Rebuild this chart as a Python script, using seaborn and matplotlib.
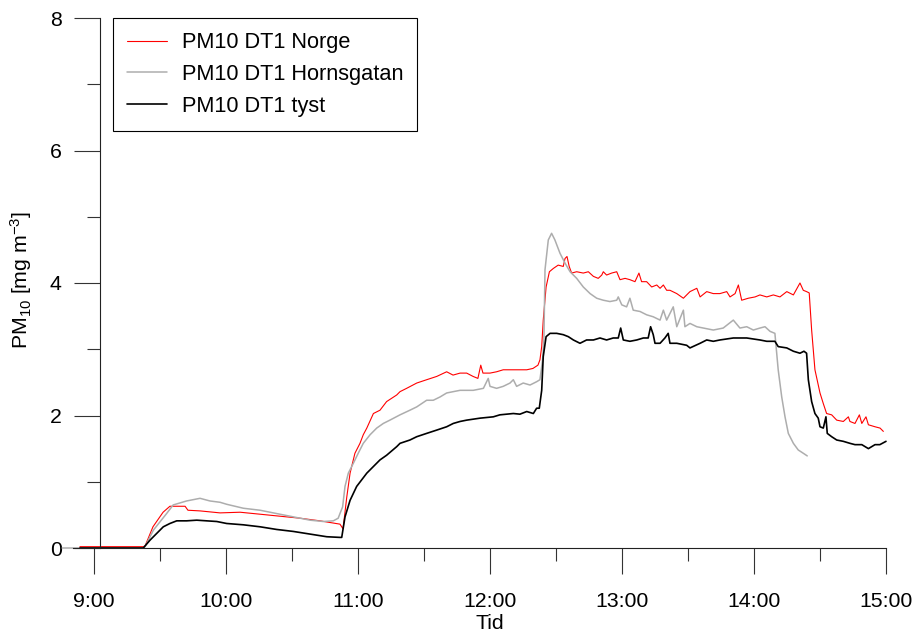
import numpy as np
import pandas as pd
import matplotlib
matplotlib.use("Agg")
import matplotlib.pyplot as plt
from matplotlib.ticker import MultipleLocator
import seaborn as sns

# minutes after 9:00 and PM10 [mg m-3]
norge_min = [-6.4, 22.3, 23.2, 26.8, 31.4, 34.5, 41.4, 42.7, 48.2, 57.3,
             66.4, 75.5, 84.5, 93.6, 102.7, 111.8, 113.2, 114.9, 116.4, 118.6,
             120.9, 122.4, 124.0, 127.0, 130.0, 133.0, 137.6, 139.1, 142.1, 146.7,
             151.2, 155.8, 160.3, 163.2, 166.4, 169.4, 172.3, 174.5, 175.8, 176.8,
             180.0, 183.0, 186.0, 192.1, 196.7, 199.5, 201.8, 202.7, 203.5, 204.2,
             205.5, 207.0, 208.8, 211.0, 213.3, 214.1, 215.0, 216.0, 217.1, 219.4,
             222.4, 224.7, 227.0, 229.2, 230.8, 231.5, 233.0, 235.3, 237.6, 239.1,
             241.4, 243.6, 245.9, 247.7, 248.9, 251.2, 253.5, 255.8, 257.3, 258.8,
             260.3, 261.8, 264.9, 267.9, 270.9, 274.0, 275.5, 278.5, 281.5, 284.5,
             287.6, 289.1, 291.4, 292.9, 294.4, 297.4, 300.5, 302.7, 305.8, 308.8,
             311.8, 314.9, 317.9, 320.9, 322.4, 323.9, 325.1, 326.2, 327.7, 330.0,
             331.5, 333.0, 335.3, 337.6, 340.6, 342.9, 343.6, 345.9, 347.9, 349.0,
             350.9, 352.0, 355.0, 357.3, 358.8]
norge_val = [0.02, 0.02, 0.03, 0.32, 0.54, 0.63, 0.63, 0.57, 0.56, 0.53,
             0.54, 0.51, 0.48, 0.45, 0.41, 0.36, 0.29, 0.77, 1.13, 1.43,
             1.58, 1.71, 1.81, 2.03, 2.08, 2.21, 2.31, 2.36, 2.41, 2.49,
             2.54, 2.59, 2.66, 2.61, 2.64, 2.64, 2.59, 2.56, 2.76, 2.64,
             2.64, 2.66, 2.69, 2.69, 2.69, 2.71, 2.76, 2.84, 3.04, 3.44,
             3.94, 4.17, 4.22, 4.27, 4.25, 4.37, 4.40, 4.25, 4.15, 4.17,
             4.15, 4.17, 4.10, 4.07, 4.12, 4.17, 4.12, 4.15, 4.17, 4.05,
             4.07, 4.05, 4.02, 4.15, 4.02, 4.02, 3.94, 3.97, 3.92, 3.97,
             3.89, 3.89, 3.84, 3.77, 3.87, 3.92, 3.79, 3.87, 3.84, 3.84,
             3.87, 3.79, 3.84, 3.97, 3.74, 3.77, 3.79, 3.82, 3.79, 3.82,
             3.79, 3.87, 3.82, 4.00, 3.89, 3.87, 3.85, 3.29, 2.69, 2.34,
             2.18, 2.03, 2.01, 1.93, 1.91, 1.98, 1.91, 1.88, 2.01, 1.88,
             1.98, 1.86, 1.83, 1.81, 1.76]

horns_min = [-14.5, 22.3, 23.2, 27.0, 33.0, 36.0, 42.1, 48.2, 52.7, 57.3,
             60.3, 67.9, 75.5, 83.0, 90.6, 98.2, 104.2, 108.8, 111.0, 111.8,
             113.0, 114.1, 115.6, 117.9, 120.1, 122.4, 125.5, 128.5, 131.5, 134.5,
             139.1, 143.6, 146.7, 151.2, 154.2, 157.3, 160.3, 163.3, 166.4, 172.4,
             177.0, 179.2, 180.0, 183.0, 186.0, 189.1, 190.6, 192.1, 195.1, 198.2,
             201.2, 202.7, 203.9, 204.5, 205.0, 206.5, 208.0, 209.5, 211.8, 214.1,
             216.4, 219.4, 222.4, 225.5, 228.5, 231.5, 234.5, 237.6, 238.3, 239.9,
             242.1, 243.6, 245.1, 248.2, 251.2, 254.2, 257.3, 258.8, 260.3, 263.3,
             264.9, 267.9, 268.6, 270.9, 274.0, 277.0, 281.5, 286.0, 290.6, 293.6,
             296.7, 299.7, 302.7, 305.0, 307.3, 309.5, 311.0, 312.6, 314.1, 315.6,
             317.9, 320.1, 322.4, 324.2]
horns_val = [0.0, 0.0, 0.02, 0.27, 0.52, 0.65, 0.71, 0.75, 0.71, 0.69,
             0.66, 0.60, 0.57, 0.52, 0.47, 0.42, 0.40, 0.41, 0.45, 0.52,
             0.62, 0.93, 1.13, 1.28, 1.43, 1.58, 1.71, 1.81, 1.88, 1.93,
             2.01, 2.08, 2.13, 2.23, 2.23, 2.28, 2.34, 2.36, 2.38, 2.38,
             2.41, 2.56, 2.44, 2.41, 2.44, 2.49, 2.54, 2.44, 2.49, 2.46,
             2.51, 2.54, 2.84, 3.14, 4.20, 4.65, 4.75, 4.65, 4.45, 4.30,
             4.17, 4.07, 3.94, 3.84, 3.77, 3.74, 3.72, 3.74, 3.79, 3.67,
             3.64, 3.77, 3.59, 3.57, 3.52, 3.49, 3.44, 3.59, 3.44, 3.64,
             3.34, 3.59, 3.34, 3.39, 3.34, 3.32, 3.29, 3.32, 3.44, 3.32,
             3.34, 3.29, 3.32, 3.34, 3.27, 3.24, 2.69, 2.28, 1.98, 1.73,
             1.58, 1.48, 1.43, 1.39]

tyst_min = [-6.4, 22.4, 25.5, 28.5, 31.5, 34.5, 37.6, 42.1, 46.7, 51.2,
            55.8, 60.3, 67.9, 75.5, 83.0, 90.6, 98.2, 105.8, 111.8, 112.6,
            114.1, 116.4, 119.4, 121.7, 124.0, 127.0, 130.0, 133.0, 137.6, 139.1,
            143.6, 146.7, 151.2, 155.8, 160.3, 163.3, 166.4, 169.4, 175.5, 181.5,
            184.5, 190.6, 193.6, 196.7, 199.7, 201.2, 202.4, 203.5, 204.2, 205.5,
            207.3, 210.3, 213.3, 215.6, 217.9, 220.9, 223.9, 227.0, 230.0, 233.0,
            236.0, 238.3, 239.4, 240.6, 243.6, 246.7, 249.7, 251.9, 253.0, 254.2,
            255.0, 257.3, 259.5, 261.0, 261.8, 264.9, 269.4, 270.9, 275.5, 278.5,
            281.5, 284.5, 290.6, 296.7, 302.7, 305.8, 309.5, 311.0, 314.9, 317.9,
            320.9, 322.7, 323.9, 324.7, 326.2, 327.7, 329.2, 330.0, 331.5, 332.7,
            333.3, 335.3, 337.6, 340.6, 343.6, 345.9, 349.0, 352.0, 355.0, 357.2,
            360.0]
tyst_val = [0.0, 0.0, 0.12, 0.22, 0.32, 0.37, 0.41, 0.41, 0.42, 0.41,
            0.40, 0.37, 0.35, 0.32, 0.28, 0.25, 0.21, 0.17, 0.16, 0.16,
            0.47, 0.72, 0.93, 1.03, 1.13, 1.23, 1.33, 1.40, 1.53, 1.58,
            1.63, 1.68, 1.73, 1.78, 1.83, 1.88, 1.91, 1.93, 1.96, 1.98,
            2.01, 2.03, 2.02, 2.06, 2.03, 2.11, 2.11, 2.38, 2.89, 3.19,
            3.24, 3.24, 3.22, 3.19, 3.14, 3.09, 3.14, 3.14, 3.17, 3.14,
            3.17, 3.17, 3.32, 3.14, 3.12, 3.14, 3.17, 3.17, 3.34, 3.22,
            3.09, 3.09, 3.17, 3.24, 3.09, 3.09, 3.06, 3.02, 3.09, 3.14,
            3.12, 3.14, 3.17, 3.17, 3.14, 3.12, 3.12, 3.04, 3.02, 2.97,
            2.94, 2.97, 2.94, 2.54, 2.21, 2.03, 1.96, 1.83, 1.81, 1.98,
            1.73, 1.68, 1.63, 1.61, 1.58, 1.56, 1.56, 1.50, 1.56, 1.56,
            1.61]

hour_ticks = [9, 10, 11, 12, 13, 14, 15]
hour_labels = [f"{h}:00" for h in hour_ticks]

sns.set_style("ticks")
plt.rcParams["font.family"] = ["Liberation Sans", "DejaVu Sans"]
plt.rcParams["mathtext.fontset"] = "custom"
plt.rcParams["mathtext.rm"] = "Liberation Sans"
plt.rcParams["mathtext.default"] = "regular"
plt.rcParams["text.color"] = "black"
plt.rcParams["axes.labelcolor"] = "black"
plt.rcParams["xtick.labelcolor"] = "black"
plt.rcParams["ytick.labelcolor"] = "black"

fig = plt.figure(figsize=(9.16, 6.33), dpi=100)
ax = fig.add_axes([61 / 916, 1 - 548 / 633, 825 / 916, 530 / 633])

series = [
    ("PM10 DT1 Norge", norge_min, norge_val, "#ff0000", 0.8),
    ("PM10 DT1 Hornsgatan", horns_min, horns_val, "#adadad", 1.1),
    ("PM10 DT1 tyst", tyst_min, tyst_val, "#000000", 1.2),
]
for label, mins, vals, color, lw in series:
    df = pd.DataFrame({"tid": 9 + np.array(mins) / 60.0, "pm10": vals})
    sns.lineplot(data=df, x="tid", y="pm10", color=color, linewidth=lw,
                 label=label, sort=False, estimator=None, ax=ax, clip_on=False)

ax.set_xlim(8.75, 15.0)
ax.set_ylim(0, 8)
ax.spines[["top", "right"]].set_visible(False)
ax.spines["left"].set_position(("data", 9 + (6 / 2.2) / 60))
ax.spines["bottom"].set_bounds(8 + 50.5 / 60, 15.0)
for s in ["left", "bottom"]:
    ax.spines[s].set_linewidth(0.8)
    ax.spines[s].set_color("#222222")

ax.set_xticks(hour_ticks)
ax.set_xticklabels(hour_labels)
ax.xaxis.set_minor_locator(MultipleLocator(0.5))
ax.set_yticks([0, 2, 4, 6, 8])
ax.yaxis.set_minor_locator(MultipleLocator(1))
ax.tick_params(which="major", length=18.7, width=0.8, direction="out",
               labelsize=15.3, color="#333333", labelcolor="black")
ax.tick_params(which="minor", length=9.4, width=0.8, direction="out",
               color="#333333")
ax.tick_params(axis="y", pad=9)
ax.tick_params(axis="x", pad=13)

ax.set_ylabel("PM$_{10}$ [mg m$^{-3}$]", fontsize=15.3, color="black")
ax.yaxis.set_label_coords(-0.033, 0.506)
ax.set_xlabel("Tid", fontsize=15.3, color="black")
ax.xaxis.set_label_coords(0.52, -0.1245)

leg = ax.legend(loc="upper left", bbox_to_anchor=(0.063, 1.0), borderaxespad=0,
                frameon=True, fancybox=False, edgecolor="black", framealpha=1,
                fontsize=15.7, handlelength=1.85, handletextpad=0.65,
                labelspacing=0.5, borderpad=0.65)
leg.get_frame().set_linewidth(0.8)
for txt in leg.get_texts():
    txt.set_color("black")

fig.savefig("out.png", dpi=100)
plt.close(fig)
